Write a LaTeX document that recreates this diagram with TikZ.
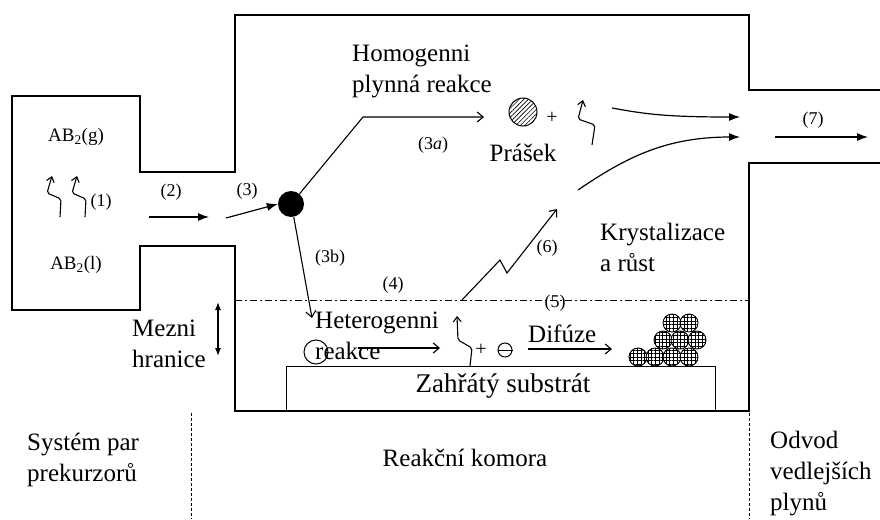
\documentclass[tikz,border=0pt]{standalone}
\usepackage{fontspec}
\setmainfont{Liberation Serif}
\usetikzlibrary{arrows.meta,patterns.meta}

\tikzset{
  wall/.style={line width=1.4pt, line join=miter},
  lbl/.style={font=\fontsize{18}{20}\selectfont, inner sep=0pt},
  chem/.style={font=\fontsize{19}{22}\selectfont, inner sep=0pt},
  txt/.style={font=\fontsize{25}{31}\selectfont, inner sep=0pt, align=left},
  flow/.style={line width=1.2pt, -{Latex[length=11pt,width=8pt]}},
  openflow/.style={line width=1.1pt, -{Straight Barb[length=6pt,width=10pt]}},
  squig/.style={line width=1.1pt, rounded corners=2pt, -{Straight Barb[length=5pt,width=8pt]}},
  grain/.style={circle, draw, line width=0.9pt, minimum size=18pt, inner sep=0pt,
                preaction={fill=white},
                pattern={Hatch[distance=3.6pt, angle=0, line width=0.55pt]}},
  zone/.style={line width=0.8pt, dash pattern=on 3pt off 2pt},
}

\begin{document}
\begin{tikzpicture}[x=1pt,y=-1pt]
\useasboundingbox (0,0) rectangle (880,519);

% reactor outline: precursor box, chamber and exhaust duct
\draw[wall] (880,90) -- (749,90) -- (749,15) -- (235,15) -- (235,172) -- (140,172)
  -- (140,96) -- (12,96) -- (12,310) -- (140,310) -- (140,246) -- (235,246)
  -- (235,411) -- (749,411) -- (749,163) -- (880,163);

% heated substrate
\node[draw, line width=1.4pt, minimum width=429pt, minimum height=45pt, inner sep=0pt,
      anchor=north west] (substrate) at (286,366) {};
\node[font=\fontsize{27}{30}\selectfont, anchor=base, inner sep=0pt] (subtxt) at (503,392) {Zahřátý substrát};

% boundary layer limit
\coordinate (bl1) at (235,300);
\coordinate (bl2) at (749,300);
\draw[line width=0.9pt, dash pattern=on 7pt off 3pt on 2pt off 3pt] (bl1) -- (bl2);

% zone separators
\coordinate (z1a) at (191,413); \coordinate (z1b) at (191,519);
\coordinate (z2a) at (749,413); \coordinate (z2b) at (749,519);
\draw[zone] (z1a) -- (z1b);
\draw[zone] (z2a) -- (z2b);

% precursor system
\node[chem] (gas) at (76,137) {AB\textsubscript{2}(g)};
\node[chem] (liq) at (76,265) {AB\textsubscript{2}(l)};
\draw[squig] (60,217) -- ++(1,-18) -- ++(-14,-6) -- ++(5,-17);
\draw[squig] (85,217) -- ++(1,-18) -- ++(-14,-6) -- ++(5,-17);
\node[lbl] (l1) at (101,202) {(1)};

% transport into the chamber
\coordinate (a2s) at (149,217); \coordinate (a2e) at (209,217);
\draw[flow] (a2s) -- (a2e);
\node[lbl] (l2) at (171,192) {(2)};
\node[circle, fill=black, minimum size=26pt, inner sep=0pt] (drop) at (291,204) {};
\coordinate (a3s) at (226,218);
\draw[flow] (a3s) -- (drop.west);
\node[lbl] (l3) at (247,191) {(3)};

% homogeneous gas phase reaction
\node[txt, anchor=north west] (homo) at (352,45) {Homogenni\\plynná reakce};
\node[circle, draw, line width=1pt, minimum size=28pt, inner sep=0pt,
      preaction={fill=white},
      pattern={Lines[distance=3.2pt, angle=45, line width=0.6pt]}] (powder) at (523,112) {};
\coordinate (k3a) at (363,117); \coordinate (e3a) at (484,117);
\draw[openflow] (drop.50) -- (k3a) -- (e3a);
\node[lbl] (l3a) at (433,145) {(3\textit{a})};
\node[font=\fontsize{20}{22}\selectfont, inner sep=0pt] (plus1) at (552,118) {+};
\draw[squig] (592,145) -- ++(3,-20) -- ++(-17,-6) -- ++(5,-19);
\node[txt, anchor=base] (prasek) at (523,161) {Prášek};

% by-products leaving the chamber
\coordinate (t1s) at (612,108); \coordinate (t1e) at (740,117);
\coordinate (t2s) at (578,190); \coordinate (t2e) at (740,137);
\draw[flow] (t1s) .. controls (645,114) and (665,117) .. (t1e);
\draw[flow] (t2s) .. controls (625,158) and (665,137) .. (t2e);
\coordinate (a7s) at (775,137); \coordinate (a7e) at (868,137);
\draw[flow] (a7s) -- (a7e);
\node[lbl] (l7) at (813,120) {(7)};

% heterogeneous path
\coordinate (e3b) at (312,318);
\draw[openflow] (drop.-78) -- (e3b);
\node[lbl] (l3b) at (330,258) {(3b)};
\node[lbl] (l4) at (393,285) {(4)};
\node[txt, anchor=north west] (hetero) at (315,312) {Heterogenni\\reakce};
\node[circle, draw, line width=1pt, minimum size=24pt, inner sep=0pt] (adatom) at (316,352) {};
\coordinate (rs) at (358,348); \coordinate (re) at (440,348);
\draw[openflow] (rs) -- (re);
\draw[squig] (470,366) -- ++(2,-18) -- ++(-14,-8) -- ++(-1,-24);
\node[font=\fontsize{20}{22}\selectfont, inner sep=0pt] (plus2) at (481,350) {+};
\node[circle, draw, line width=1pt, minimum size=14pt, inner sep=0pt] (ion) at (505,350) {};
\draw[line width=1pt] (ion.west) -- (ion.east);
\node[txt, anchor=base west] (difuze) at (528,342) {Difúze};
\coordinate (ds) at (528,349); \coordinate (de) at (612,349);
\draw[openflow] (ds) -- (de);
\node[lbl] (l5) at (555,303) {(5)};

% desorption
\coordinate (d0) at (462,300); \coordinate (d3) at (557,209);
\draw[openflow] (d0) -- (500,260) -- (507,273) -- (d3);
\node[lbl] (l6) at (547,248) {(6)};
\node[txt, anchor=north west] (kryst) at (600,223) {Krystalizace\\a růst};

% growing film
\foreach \gx/\gy [count=\i] in {672/323, 689/323, 663/340, 680/340, 697/340,
                                638/357, 655/357, 672/357, 689/357}
  \node[grain] (g\i) at (\gx,\gy) {};

% boundary layer thickness
\node[txt, anchor=north west] (mezni) at (132,320) {Mezni\\hranice};
\coordinate (m1) at (218,302); \coordinate (m2) at (218,356);
\draw[line width=1.2pt, {Latex[length=8pt,width=6pt]}-{Latex[length=8pt,width=6pt]}] (m1) -- (m2);

% zone names
\node[txt, anchor=north west] (sys) at (27,433) {Systém par\\prekurzorů};
\node[txt, anchor=base] (komora) at (465,466) {Reakční komora};
\node[txt, anchor=north west] (odvod) at (770,431) {Odvod\\vedlejších\\plynů};
\end{tikzpicture}
\end{document}
